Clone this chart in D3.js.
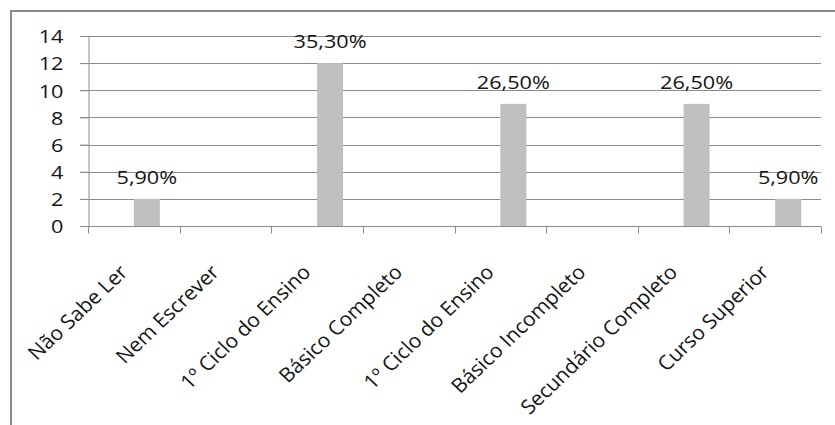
<!DOCTYPE html>
<html>
<head>
<meta charset="utf-8">
<script src="https://cdn.jsdelivr.net/npm/d3@7"></script>
<style>
  html, body { margin: 0; padding: 0; background: #fff; }
  svg { display: block; }
  text { font-family: "Open Sans", sans-serif; fill: #141414; }
</style>
</head>
<body>
<svg id="chart" width="835" height="425"></svg>
<script>
// Escolaridade: contagens por categoria e percentagem indicada sobre cada barra
const categorias = [
  "Não Sabe Ler", "Nem Escrever", "1º Ciclo do Ensino", "Básico Completo",
  "1º Ciclo do Ensino", "Básico Incompleto", "Secundário Completo", "Curso Superior"
];
const valores = [2, 0, 12, 0, 9, 0, 9, 2];
const rotulos = ["5,90%", null, "35,30%", null, "26,50%", null, "26,50%", "5,90%"];
const yTicks = [0, 2, 4, 6, 8, 10, 12, 14];

const svg = d3.select("#chart");
const W = 835, H = 425;
const plot = { left: 88, right: 821, top: 36, bottom: 226 };
const FONT = 19;          // números (eixo e percentagens)
const STRETCH = 1.14;     // números ligeiramente alargados
const CAT_FONT = 20;      // nomes das categorias
const CAT_STRETCH = 1.05;

// moldura do gráfico (lados superior e esquerdo)
svg.append("path")
  .attr("d", `M11,${H} V11 H${W}`)
  .attr("fill", "none")
  .attr("stroke", "#8a8a8a")
  .attr("stroke-width", 2);

// escalas: uma banda por categoria, e dentro dela duas posições (a barra ocupa a segunda)
const x = d3.scaleBand()
  .domain(d3.range(categorias.length))
  .range([plot.left, plot.right])
  .padding(0);
const xInner = d3.scaleBand()
  .domain([0, 1])
  .range([0, x.bandwidth()])
  .paddingInner(0)
  .paddingOuter(0.76);
const y = d3.scaleLinear().domain([0, 14]).range([plot.bottom, plot.top]);

// linhas de grelha horizontais
svg.append("g")
  .selectAll("line")
  .data(yTicks)
  .join("line")
  .attr("x1", plot.left - 8)
  .attr("x2", plot.right)
  .attr("y1", d => Math.round(y(d)) + 0.5)
  .attr("y2", d => Math.round(y(d)) + 0.5)
  .attr("stroke", "#8c8c8c")
  .attr("stroke-width", 1);

// eixo vertical
const yAxis = svg.append("g")
  .attr("transform", `translate(${plot.left + 0.5},0)`)
  .call(d3.axisLeft(y).tickValues(yTicks).tickSize(8).tickFormat(d3.format("d")));
yAxis.select(".domain").attr("stroke", "#8c8c8c");
yAxis.selectAll(".tick line").attr("stroke", "#8c8c8c");
yAxis.selectAll(".tick text")
  .attr("x", 0)
  .attr("dy", "0.36em")
  .attr("transform", `translate(-25,0) scale(${STRETCH},1)`)
  .attr("font-family", "'Open Sans', sans-serif")
  .attr("font-size", FONT)
  .attr("fill", "#141414");

// barras
svg.append("g")
  .selectAll("rect")
  .data(valores)
  .join("rect")
  .attr("x", (d, i) => x(i) + xInner(1))
  .attr("width", xInner.bandwidth())
  .attr("y", d => y(d))
  .attr("height", d => y(0) - y(d))
  .attr("fill", "#bfbfbf");

// eixo horizontal com marcas nos limites das categorias
const base = Math.round(y(0)) + 0.5;
svg.append("line")
  .attr("x1", plot.left - 8).attr("x2", plot.right)
  .attr("y1", base).attr("y2", base)
  .attr("stroke", "#8c8c8c");
svg.append("g")
  .selectAll("line")
  .data(d3.range(categorias.length + 1))
  .join("line")
  .attr("x1", i => Math.round(plot.left + i * x.step()) + 0.5)
  .attr("x2", i => Math.round(plot.left + i * x.step()) + 0.5)
  .attr("y1", base)
  .attr("y2", base + 7)
  .attr("stroke", "#8c8c8c");

// percentagens sobre as barras
svg.append("g")
  .selectAll("text")
  .data(valores.map((v, i) => ({ v, i, t: rotulos[i] })).filter(d => d.t))
  .join("text")
  .attr("transform", d =>
    `translate(${x(d.i) + xInner(1) + xInner.bandwidth() / 2},${y(d.v) - 15}) scale(${STRETCH},1)`)
  .attr("text-anchor", "middle")
  .attr("font-size", FONT)
  .text(d => d.t);

// rótulos das categorias, inclinados
svg.append("g")
  .selectAll("text")
  .data(categorias)
  .join("text")
  .attr("transform", (d, i) =>
    `translate(${x(i) + x.bandwidth() / 2 - 5},${base + 47}) scale(${CAT_STRETCH},1) rotate(-45)`)
  .attr("text-anchor", "end")
  .attr("font-size", CAT_FONT)
  .text(d => d);
</script>
</body>
</html>
